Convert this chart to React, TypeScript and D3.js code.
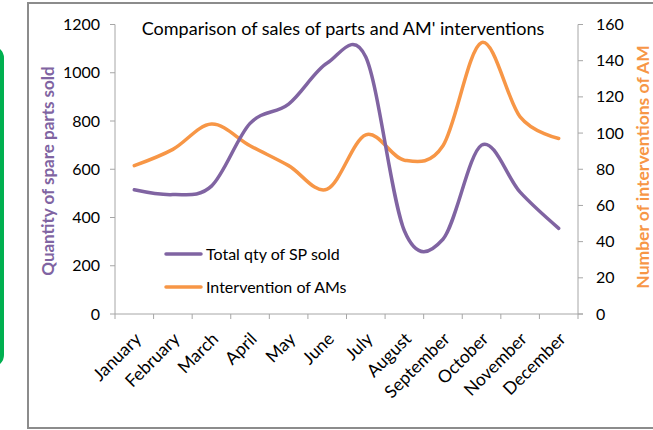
import React from "react";
import * as d3 from "d3";

const months = ["January","February","March","April","May","June","July","August","September","October","November","December"];
const soldQty = [515, 495, 530, 790, 870, 1040, 1065, 345, 310, 700, 505, 355];
const amInterventions = [82, 91, 105, 93, 82, 69, 99, 85, 93, 150, 109, 97];
const leftTicks = [0, 200, 400, 600, 800, 1000, 1200];
const rightTicks = [0, 20, 40, 60, 80, 100, 120, 140, 160];

const W = 653, H = 430;
const PURPLE = "#8064A2";
const ORANGE = "#F79646";
const FONT = "Lato, 'Open Sans', sans-serif";

export default function App() {
  const x = d3.scaleBand<string>().domain(months).range([115, 578]).padding(0);
  const cx = (m: string) => (x(m) as number) + x.bandwidth() / 2;
  const yL = d3.scaleLinear().domain([0, 1200]).range([314, 24.5]);
  const yR = d3.scaleLinear().domain([0, 160]).range([314, 24.5]);
  const curve = d3.curveCatmullRom.alpha(0);
  const lineL = d3.line<number>().x((_, i) => cx(months[i])).y(d => yL(d)).curve(curve);
  const lineR = d3.line<number>().x((_, i) => cx(months[i])).y(d => yR(d)).curve(curve);
  const axisColor = "#A6A6A6";
  const xTicks = [...months.map(m => x(m) as number), 578];

  return (
    <svg width={W} height={H} style={{ position: "absolute", left: 0, top: 0, background: "#fff" }} fontFamily={FONT}>
      <rect x={0} y={0} width={W} height={H} fill="#fff" />
      {/* green frame fragment */}
      <rect x={-60} y={48} width={62} height={317} rx={10} fill="none" stroke="#00B050" strokeWidth={4} />
      {/* chart border */}
      <rect x={28} y={3} width={W} height={425} fill="none" stroke="#8C8C8C" strokeWidth={2} />

      {/* title */}
      <text x={343} y={35} textAnchor="middle" fontSize={18} fill="#000">Comparison of sales of parts and AM' interventions</text>

      {/* left axis */}
      <line x1={115} x2={115} y1={yL(1200)} y2={yL(0)} stroke={axisColor} />
      {leftTicks.map(t => (
        <g key={"l" + t}>
          <line x1={110} x2={115} y1={yL(t)} y2={yL(t)} stroke={axisColor} />
          <text x={100} y={yL(t)} dy="0.35em" textAnchor="end" fontSize={16} fill="#000">{t}</text>
        </g>
      ))}
      {/* right axis */}
      <line x1={578} x2={578} y1={yR(160)} y2={yR(0)} stroke={axisColor} />
      {rightTicks.map(t => (
        <g key={"r" + t}>
          <line x1={578} x2={583} y1={yR(t)} y2={yR(t)} stroke={axisColor} />
          <text x={596} y={yR(t)} dy="0.35em" textAnchor="start" fontSize={16} fill="#000">{t}</text>
        </g>
      ))}
      {/* x axis */}
      <line x1={115} x2={583} y1={314} y2={314} stroke={axisColor} />
      {xTicks.map((t, i) => (
        <line key={"xt" + i} x1={t} x2={t} y1={314} y2={319} stroke={axisColor} />
      ))}
      {months.map(m => (
        <text key={m} transform={`translate(${cx(m) + 8},${340}) rotate(-45)`} textAnchor="end" fontSize={17.5} fill="#000">{m}</text>
      ))}

      {/* axis titles */}
      <text transform={`translate(54,171) rotate(-90)`} textAnchor="middle" fontSize={17} fontWeight="bold" fill={PURPLE}>Quantity of spare parts sold</text>
      <text transform={`translate(649,167) rotate(-90)`} textAnchor="middle" fontSize={17.5} fontWeight="bold" fill={ORANGE}>Number of interventions of AM</text>

      {/* lines */}
      <path d={lineR(amInterventions) || ""} fill="none" stroke={ORANGE} strokeWidth={3.5} strokeLinecap="round" />
      <path d={lineL(soldQty) || ""} fill="none" stroke={PURPLE} strokeWidth={3.5} strokeLinecap="round" />

      {/* legend */}
      <line x1={166} x2={201} y1={254} y2={254} stroke={PURPLE} strokeWidth={3.5} strokeLinecap="round" />
      <text x={206} y={254} dy="0.35em" fontSize={16} fill="#000">Total qty of SP sold</text>
      <line x1={166} x2={201} y1={287} y2={287} stroke={ORANGE} strokeWidth={3.5} strokeLinecap="round" />
      <text x={206} y={287} dy="0.35em" fontSize={16} fill="#000">Intervention of AMs</text>
    </svg>
  );
}
